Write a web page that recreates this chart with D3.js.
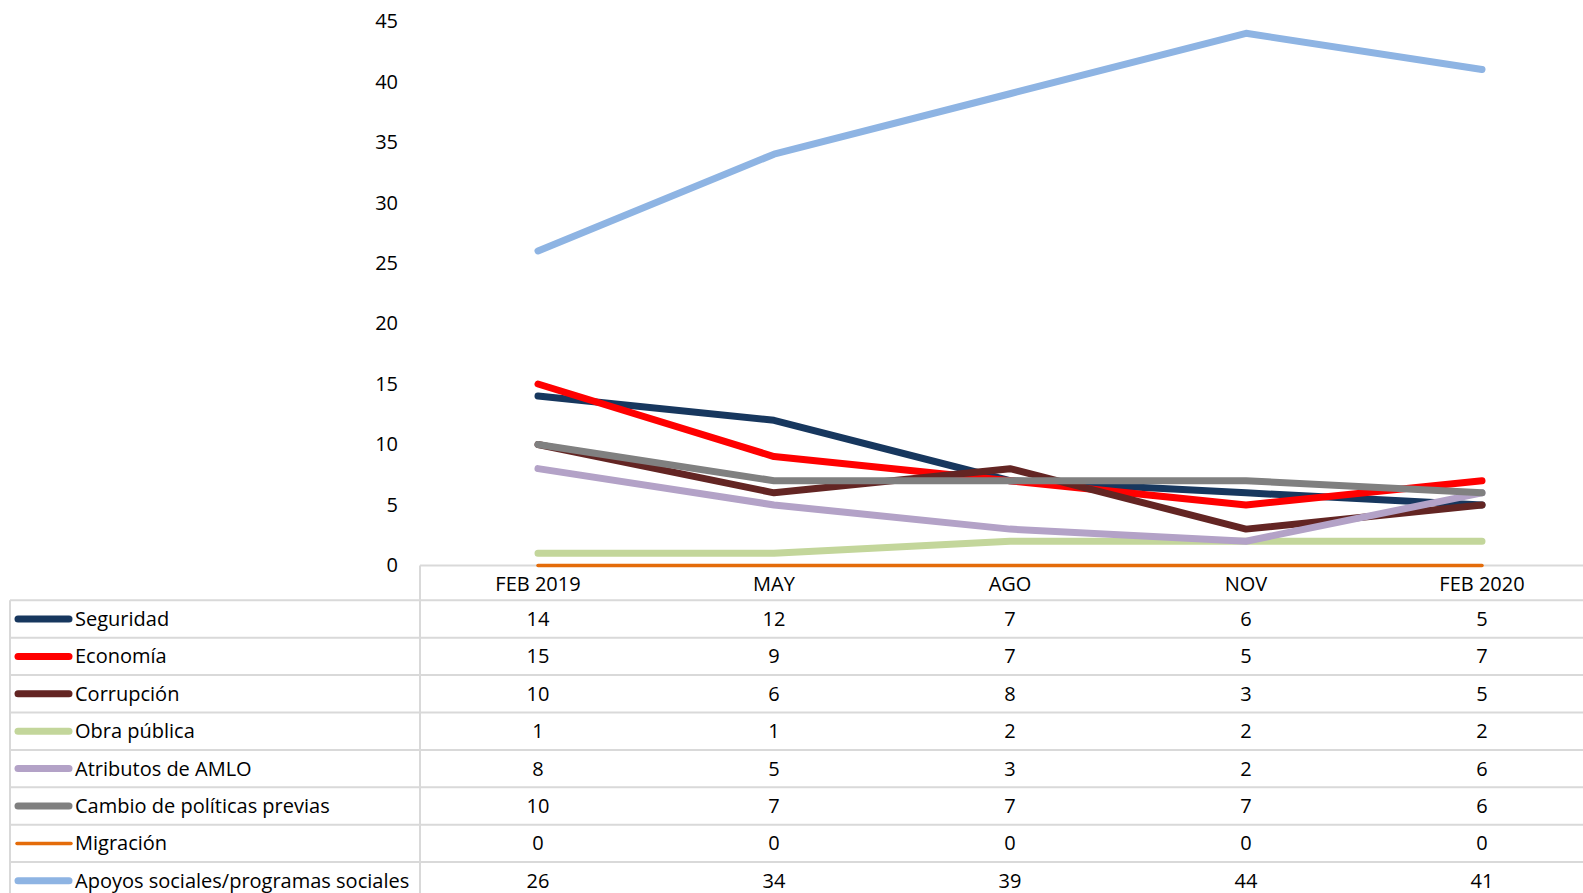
<!DOCTYPE html>
<html><head><meta charset="utf-8">
<script src="https://cdn.jsdelivr.net/npm/d3@7"></script>
<style>
html,body{margin:0;padding:0;background:#fff;overflow:hidden;}
text{font-family:"Open Sans","Noto Sans",sans-serif;fill:#000;}
</style></head>
<body><svg id="c" width="1583" height="893"></svg>
<script>
const categories = ["FEB 2019","MAY","AGO","NOV","FEB 2020"];
const seriesNames = ["Seguridad","Economía","Corrupción","Obra pública","Atributos de AMLO","Cambio de políticas previas","Migración","Apoyos sociales/programas sociales"];
const seguridad = [14,12,7,6,5];
const economia = [15,9,7,5,7];
const corrupcion = [10,6,8,3,5];
const obraPublica = [1,1,2,2,2];
const atributos = [8,5,3,2,6];
const cambioPoliticas = [10,7,7,7,6];
const migracion = [0,0,0,0,0];
const apoyosSociales = [26,34,39,44,41];
const yTicks = [0,5,10,15,20,25,30,35,40,45];
const colors = ["#17375E","#FF0000","#632523","#C3D69B","#B3A2C7","#808080","#E46C0A","#8EB4E3"];
const widths = [7,7,7,7,7,7,3.5,7];

const seriesValues = [seguridad,economia,corrupcion,obraPublica,atributos,cambioPoliticas,migracion,apoyosSociales];
const series = seriesNames.map((n,i)=>({name:n, values:seriesValues[i], color:colors[i], width:widths[i]}));

const svg = d3.select("#c");
const plotLeft = 420, plotRight = 1600;
const x = d3.scaleBand().domain(categories).range([plotLeft, plotRight]);
const cx = c => x(c) + x.bandwidth()/2;
const y = d3.scaleLinear().domain([0,45]).range([565.4, 21.2]);

const grid = "#D9D9D9";
// Y axis labels
const yAxis = d3.axisLeft(y).tickValues(yTicks).tickSize(0).tickPadding(0);
const ya = svg.append("g").attr("transform","translate(398,0)").call(yAxis);
ya.select(".domain").remove();
ya.selectAll("text").attr("font-size",20).style("font-family","'Open Sans'").attr("fill","#000").attr("dy","0.32em");

// table geometry
const tableTop = 600.3, rowH = 37.4, tableLeft = 10;
const nRows = series.length;
// x axis line
svg.append("line").attr("x1",plotLeft).attr("x2",1583).attr("y1",y(0)).attr("y2",y(0)).attr("stroke",grid).attr("stroke-width",2);
// vertical divider
svg.append("line").attr("x1",plotLeft).attr("x2",plotLeft).attr("y1",y(0)).attr("y2",tableTop+rowH*nRows).attr("stroke",grid).attr("stroke-width",2);
// left border
svg.append("line").attr("x1",tableLeft).attr("x2",tableLeft).attr("y1",tableTop).attr("y2",tableTop+rowH*nRows).attr("stroke",grid).attr("stroke-width",2);
// horizontal rows
for(let i=0;i<=nRows;i++){
  svg.append("line").attr("x1",tableLeft).attr("x2",1583).attr("y1",tableTop+i*rowH).attr("y2",tableTop+i*rowH).attr("stroke",grid).attr("stroke-width",2);
}
// header labels
svg.append("g").selectAll("text").data(categories).join("text")
  .attr("x",d=>cx(d)).attr("y",(y(0)+tableTop)/2+1).attr("text-anchor","middle").attr("dy","0.35em")
  .attr("font-size",20).text(d=>d);

// lines
const line = d3.line().x((d,i)=>cx(categories[i])).y(d=>y(d));
svg.append("g").selectAll("path").data(series).join("path")
  .attr("d",d=>line(d.values)).attr("fill","none").attr("stroke",d=>d.color)
  .attr("stroke-width",d=>d.width).attr("stroke-linecap","round").attr("stroke-linejoin","round");

// rows
const rows = svg.append("g").selectAll("g").data(series).join("g")
  .attr("transform",(d,i)=>`translate(0,${tableTop+rowH*i+rowH/2})`);
rows.append("line").attr("x1",d=>d.width<5?17:18).attr("x2",d=>d.width<5?71:69).attr("y1",0).attr("y2",0)
  .attr("stroke",d=>d.color).attr("stroke-width",d=>d.width).attr("stroke-linecap","round");
rows.append("text").attr("x",75).attr("y",0).attr("dy","0.35em").attr("font-size",20).text(d=>d.name);
rows.selectAll("text.v").data(d=>d.values).join("text").attr("class","v")
  .attr("x",(v,i)=>cx(categories[i])).attr("y",0).attr("dy","0.35em").attr("text-anchor","middle").attr("font-size",20).text(v=>v);
</script></body></html>
